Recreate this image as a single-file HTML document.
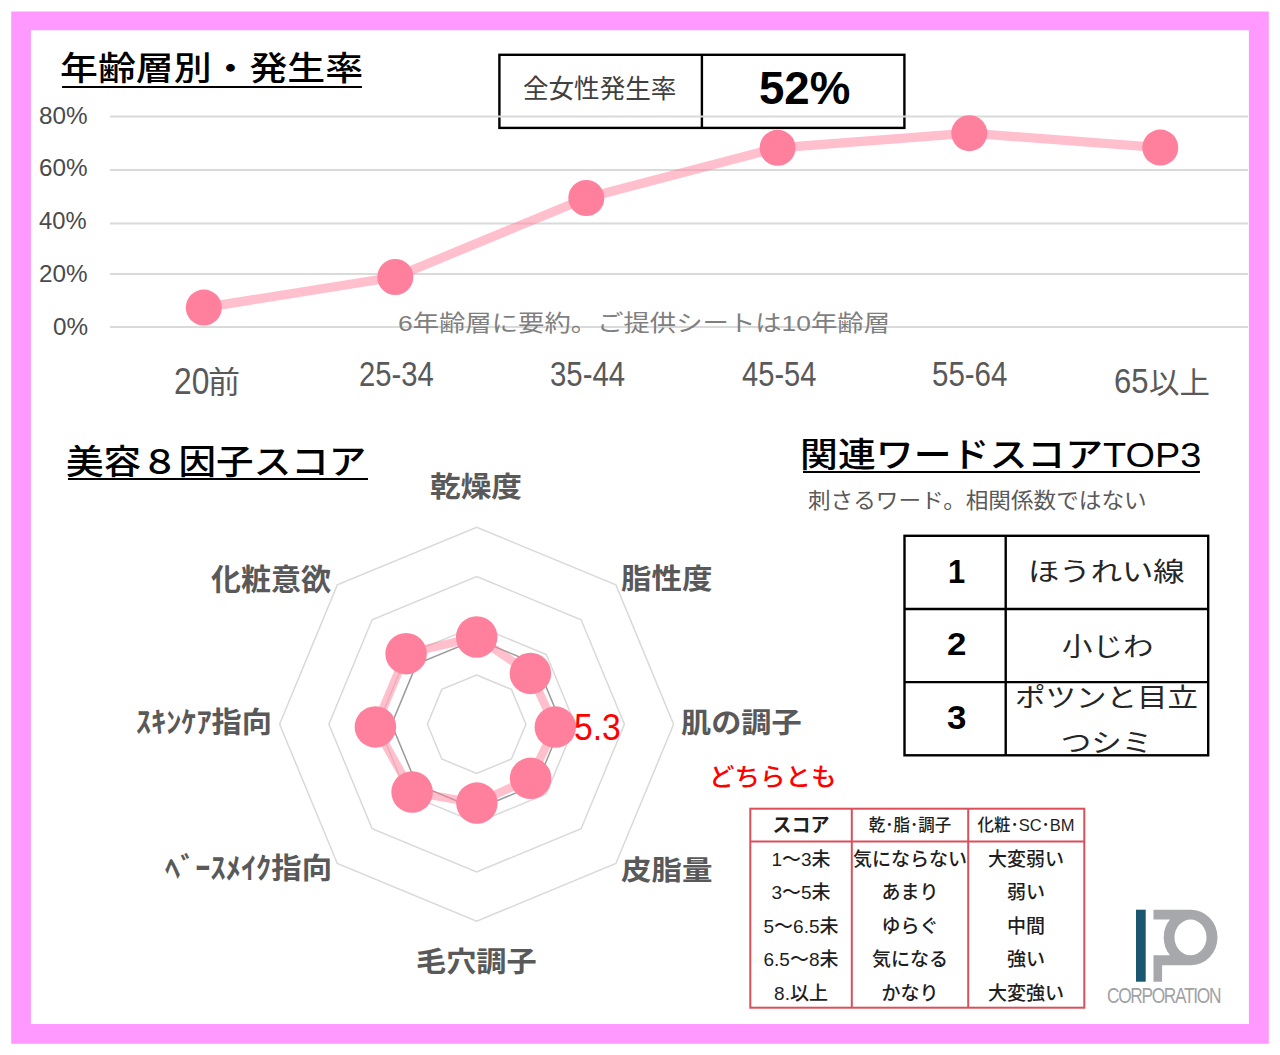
<!DOCTYPE html>
<html lang="ja"><head><meta charset="utf-8"><title>年齢層別・発生率</title>
<style>
html,body{margin:0;padding:0;background:#fff;}
body{width:1280px;height:1055px;position:relative;overflow:hidden;font-family:"Liberation Sans","Noto Sans CJK JP",sans-serif;}
.t{position:absolute;white-space:nowrap;line-height:1;transform-origin:0 0;}
.ul{position:absolute;height:2px;background:#000;}
svg{position:absolute;left:0;top:0;}
.sc{text-align:center;height:33px;line-height:33px;font-size:19px;color:#1e1e1e;font-weight:500;}
.sh{font-size:16.5px;}
</style></head><body>
<svg width="1280" height="1055" viewBox="0 0 1280 1055">
<path fill="#ff99ff" fill-rule="evenodd" d="M11.2,11.4 H1268.8 V1043.8 H11.2 Z M30.9,30.3 V1024.1 H1248.9 V30.3 Z"/>
<rect x="499.4" y="54.8" width="405" height="73.1" fill="none" stroke="#000" stroke-width="2.4"/>
<line x1="701.9" y1="54.8" x2="701.9" y2="127.9" stroke="#000" stroke-width="2.4"/>
<g stroke="#dadada" stroke-width="2">
<line x1="110" y1="116.6" x2="1248" y2="116.6"/><line x1="110" y1="170.1" x2="1248" y2="170.1"/><line x1="110" y1="223.5" x2="1248" y2="223.5"/><line x1="110" y1="274.0" x2="1248" y2="274.0"/><line x1="110" y1="327.0" x2="1248" y2="327.0"/>
</g>
<polyline points="203.8,307.6 395.3,277 586.3,198 777.6,147.8 969.3,133.2 1160.3,147.6" fill="none" stroke="#ff809c" stroke-opacity="0.5" stroke-width="9.2" stroke-linejoin="round"/>
<g fill="#ff809c"><circle cx="203.8" cy="307.6" r="18"/><circle cx="395.3" cy="277" r="18"/><circle cx="586.3" cy="198" r="18"/><circle cx="777.6" cy="147.8" r="18"/><circle cx="969.3" cy="133.2" r="18"/><circle cx="1160.3" cy="147.6" r="18"/></g>
<g fill="none" stroke="#d9d9d9" stroke-width="1.5"><polygon points="476.6,675.0 511.4,689.4 525.9,724.2 511.4,759.0 476.6,773.5 441.8,759.0 427.4,724.2 441.8,689.4"/><polygon points="476.6,625.7 546.3,654.5 575.1,724.2 546.3,793.9 476.6,822.7 406.9,793.9 378.1,724.2 406.9,654.5"/><polygon points="476.6,576.5 581.1,619.7 624.4,724.2 581.1,828.7 476.6,872.0 372.1,828.7 328.9,724.2 372.1,619.7"/><polygon points="476.6,527.2 615.9,584.9 673.6,724.2 615.9,863.5 476.6,921.2 337.3,863.5 279.6,724.2 337.3,584.9"/></g>
<polygon fill="none" stroke="#9a9a9a" stroke-width="1.5" points="476.6,639.2 536.7,664.1 561.6,724.2 536.7,784.3 476.6,809.2 416.5,784.3 391.6,724.2 416.5,664.1"/>
<polygon fill="none" stroke="#ff809c" stroke-opacity="0.5" stroke-width="8.5" stroke-linejoin="round" points="476.7,637.0 530.4,673.4 555.3,727.1 530.6,778.3 476.9,803.1 412.1,792.0 375.4,726.9 406.1,653.7"/>
<g fill="#ff809c"><circle cx="476.7" cy="637.0" r="20.75"/><circle cx="530.4" cy="673.4" r="20.75"/><circle cx="555.3" cy="727.1" r="20.75"/><circle cx="530.6" cy="778.3" r="20.75"/><circle cx="476.9" cy="803.1" r="20.75"/><circle cx="412.1" cy="792.0" r="20.75"/><circle cx="375.4" cy="726.9" r="20.75"/><circle cx="406.1" cy="653.7" r="20.75"/></g>
<rect x="904.5" y="535.8" width="303.7" height="219.5" fill="none" stroke="#000" stroke-width="2.4"/>
<line x1="1005.7" y1="535.8" x2="1005.7" y2="755.3" stroke="#000" stroke-width="2.4"/>
<line x1="904.5" y1="609" x2="1208.2" y2="609" stroke="#000" stroke-width="2.4"/>
<line x1="904.5" y1="682.1" x2="1208.2" y2="682.1" stroke="#000" stroke-width="2.4"/>
<g stroke="#d9505a" stroke-width="2" fill="none">
<rect x="750.3" y="808.7" width="334" height="199"/>
<line x1="851.8" y1="808.7" x2="851.8" y2="1007.7"/>
<line x1="968.2" y1="808.7" x2="968.2" y2="1007.7"/>
<line x1="750.3" y1="841.4" x2="1084.3" y2="841.4"/>
</g>
<rect x="1136" y="909.7" width="9.7" height="72" fill="#1b5670"/>
<path fill="#a6a8ab" fill-rule="evenodd" d="M1153.5,909.7 H1190.5 A27,27.8 0 0 1 1190.5,965.3 H1162.1 V981.8 H1153.5 V955.3 H1170 A27,27.8 0 0 1 1170,919.6 H1153.5 Z M1190.5,919.6 A16,17.85 0 1 0 1190.5,955.3 A16,17.85 0 1 0 1190.5,919.6 Z"/>
</svg>
<div class="ul" style="left:61.6px;top:85.5px;width:300.5px;"></div>
<div class="ul" style="left:67.9px;top:478.3px;width:300px;"></div>
<div class="ul" style="left:803.2px;top:471px;width:397px;"></div>
<div class="t" id="t1" style="left:60.39px;top:52.78px;font-size:37.5px;font-weight:500;color:#000;transform:scale(1.0104,0.8836);">年齢層別・発生率</div>
<div class="t" id="t2" style="left:66.35px;top:446.15px;font-size:37.5px;font-weight:500;color:#000;transform:scale(1.0008,0.9032);">美容８因子スコア</div>
<div class="t" id="t3" style="left:800.27px;top:437.68px;font-size:37.5px;font-weight:500;color:#000;transform:scale(1.0102,0.9225);">関連ワードスコアTOP3</div>
<div class="t" id="bx1" style="left:523.13px;top:76.29px;font-size:25px;font-weight:400;color:#404040;transform:scale(1.0223,1.0400);">全女性発生率</div>
<div class="t" id="bx2" style="left:759.26px;top:64.42px;font-size:46px;font-weight:700;color:#000;transform:scale(0.9917,1.0188);">52%</div>
<div class="t" id="y80" style="left:38.72px;top:105.45px;font-size:23.5px;font-weight:400;color:#4a4a4a;transform:scale(1.0328,1.0000);">80%</div>
<div class="t" id="y60" style="left:38.72px;top:156.70px;font-size:23.5px;font-weight:400;color:#4a4a4a;transform:scale(1.0328,1.0000);">60%</div>
<div class="t" id="y40" style="left:39.24px;top:210.00px;font-size:23.5px;font-weight:400;color:#4a4a4a;transform:scale(1.0109,1.0000);">40%</div>
<div class="t" id="y20" style="left:38.72px;top:263.15px;font-size:23.5px;font-weight:400;color:#4a4a4a;transform:scale(1.0328,1.0000);">20%</div>
<div class="t" id="y0" style="left:52.72px;top:316.30px;font-size:23.5px;font-weight:400;color:#4a4a4a;transform:scale(1.0312,1.0000);">0%</div>
<div class="t" id="x1" style="left:173.61px;top:362.70px;font-size:34px;font-weight:400;color:#595959;transform:scale(0.9334,1.0664);">20</div>
<div class="t" id="x1b" style="left:208.08px;top:367.25px;font-size:30px;font-weight:400;color:#595959;transform:scale(1.0708,1.0224);">前</div>
<div class="t" id="x2" style="left:359.14px;top:356.26px;font-size:34px;font-weight:400;color:#595959;transform:scale(0.8588,1.0408);">25-34</div>
<div class="t" id="x3" style="left:549.99px;top:355.70px;font-size:34px;font-weight:400;color:#595959;transform:scale(0.8641,1.0500);">35-44</div>
<div class="t" id="x4" style="left:741.74px;top:355.70px;font-size:34px;font-weight:400;color:#595959;transform:scale(0.8565,1.0500);">45-54</div>
<div class="t" id="x5" style="left:931.98px;top:356.26px;font-size:34px;font-weight:400;color:#595959;transform:scale(0.8671,1.0408);">55-64</div>
<div class="t" id="x6" style="left:1114.22px;top:363.49px;font-size:34px;font-weight:400;color:#595959;transform:scale(0.9131,1.0435);">65</div>
<div class="t" id="x6b" style="left:1148.54px;top:368.30px;font-size:30px;font-weight:400;color:#595959;transform:scale(1.0147,0.9946);">以上</div>
<div class="t" id="ann" style="left:397.67px;top:312.12px;font-size:25.5px;font-weight:400;color:#7f7f7f;transform:scale(1.0335,0.9008);">6年齢層に要約。ご提供シートは10年齢層</div>
<div class="t" id="r1" style="left:430.35px;top:472.96px;font-size:30px;font-weight:700;color:#595959;transform:scale(1.0227,0.9585);">乾燥度</div>
<div class="t" id="r2" style="left:620.98px;top:566.43px;font-size:30px;font-weight:700;color:#595959;transform:scale(1.0156,0.9333);">脂性度</div>
<div class="t" id="r3" style="left:680.84px;top:709.45px;font-size:30px;font-weight:700;color:#595959;transform:scale(1.0059,0.9518);">肌の調子</div>
<div class="t" id="r4" style="left:620.98px;top:856.68px;font-size:30px;font-weight:700;color:#595959;transform:scale(1.0165,0.9252);">皮脂量</div>
<div class="t" id="r5" style="left:416.29px;top:947.82px;font-size:30px;font-weight:700;color:#595959;transform:scale(1.0059,0.9408);">毛穴調子</div>
<div class="t" id="r6" style="left:165.40px;top:855.47px;font-size:30px;font-weight:700;color:#595959;transform:scale(1.0123,0.9717);">ﾍﾞｰｽﾒｲｸ指向</div>
<div class="t" id="r7" style="left:136.39px;top:708.57px;font-size:30px;font-weight:700;color:#595959;transform:scale(1.0080,0.9702);">ｽｷﾝｹｱ指向</div>
<div class="t" id="r8" style="left:211.25px;top:565.29px;font-size:30px;font-weight:700;color:#595959;transform:scale(0.9988,0.9900);">化粧意欲</div>
<div class="t" id="v53" style="left:574.31px;top:708.05px;font-size:34px;font-weight:400;color:#ff0000;transform:scale(0.9900,1.0916);">5.3</div>
<div class="t" id="sub" style="left:807.59px;top:491.05px;font-size:22.4px;font-weight:400;color:#595959;transform:scale(1.0095,0.9426);">刺さるワード。相関係数ではない</div>
<div class="t" id="n1" style="left:947.64px;top:554.59px;font-size:30px;font-weight:700;color:#000;transform:scale(1.0290,1.1202);">1</div>
<div class="t" id="n2" style="left:947.44px;top:629.06px;font-size:30px;font-weight:700;color:#000;transform:scale(1.1635,1.0481);">2</div>
<div class="t" id="n3" style="left:947.44px;top:700.93px;font-size:30px;font-weight:700;color:#000;transform:scale(1.1635,1.1128);">3</div>
<div class="t" id="w1" style="left:1027.62px;top:557.74px;font-size:30.5px;font-weight:400;color:#262626;transform:scale(1.0272,0.8724);">ほうれい線</div>
<div class="t" id="w2" style="left:1061.55px;top:634.30px;font-size:30.5px;font-weight:400;color:#262626;transform:scale(0.9983,0.8403);">小じわ</div>
<div class="t" id="dochi" style="left:708.50px;top:765.60px;font-size:24px;font-weight:500;color:#ff0000;transform:scale(1.0615,1.0183);">どちらとも</div>
<div class="t" id="corp" style="left:1107.39px;top:985.13px;font-size:20px;font-weight:400;color:#a0a2a5;transform:scale(0.8638,1.0873);"><span style="letter-spacing:-1.5px">CORPORATION</span></div>
<div style="position:absolute;left:1007px;top:683px;width:199px;height:71px;overflow:hidden;">
<div style="position:absolute;left:0;top:-8.2px;width:199px;text-align:center;font-size:30.5px;line-height:52px;color:#262626;white-space:nowrap;transform-origin:0 0;transform:scale(1,0.87);">ポツンと目立<br>つシミ</div>
</div>
<div class="t sc" style="left:750px;top:809px;width:102px;font-weight:700;font-size:19px;">スコア</div>
<div class="t sc sh" style="left:852px;top:809px;width:116px;">乾･脂･調子</div>
<div class="t sc sh" style="left:968px;top:809px;width:116px;">化粧･SC･BM</div>
<div class="t sc" style="left:750px;top:842.9px;width:102px;">1～3未</div>
<div class="t sc" style="left:852px;top:842.9px;width:116px;">気にならない</div>
<div class="t sc" style="left:968px;top:842.9px;width:116px;">大変弱い</div>
<div class="t sc" style="left:750px;top:876.2px;width:102px;">3～5未</div>
<div class="t sc" style="left:852px;top:876.2px;width:116px;">あまり</div>
<div class="t sc" style="left:968px;top:876.2px;width:116px;">弱い</div>
<div class="t sc" style="left:750px;top:909.6px;width:102px;">5～6.5未</div>
<div class="t sc" style="left:852px;top:909.6px;width:116px;">ゆらぐ</div>
<div class="t sc" style="left:968px;top:909.6px;width:116px;">中間</div>
<div class="t sc" style="left:750px;top:943.0px;width:102px;">6.5～8未</div>
<div class="t sc" style="left:852px;top:943.0px;width:116px;">気になる</div>
<div class="t sc" style="left:968px;top:943.0px;width:116px;">強い</div>
<div class="t sc" style="left:750px;top:976.5px;width:102px;">8.以上</div>
<div class="t sc" style="left:852px;top:976.5px;width:116px;">かなり</div>
<div class="t sc" style="left:968px;top:976.5px;width:116px;">大変強い</div>
</body></html>
